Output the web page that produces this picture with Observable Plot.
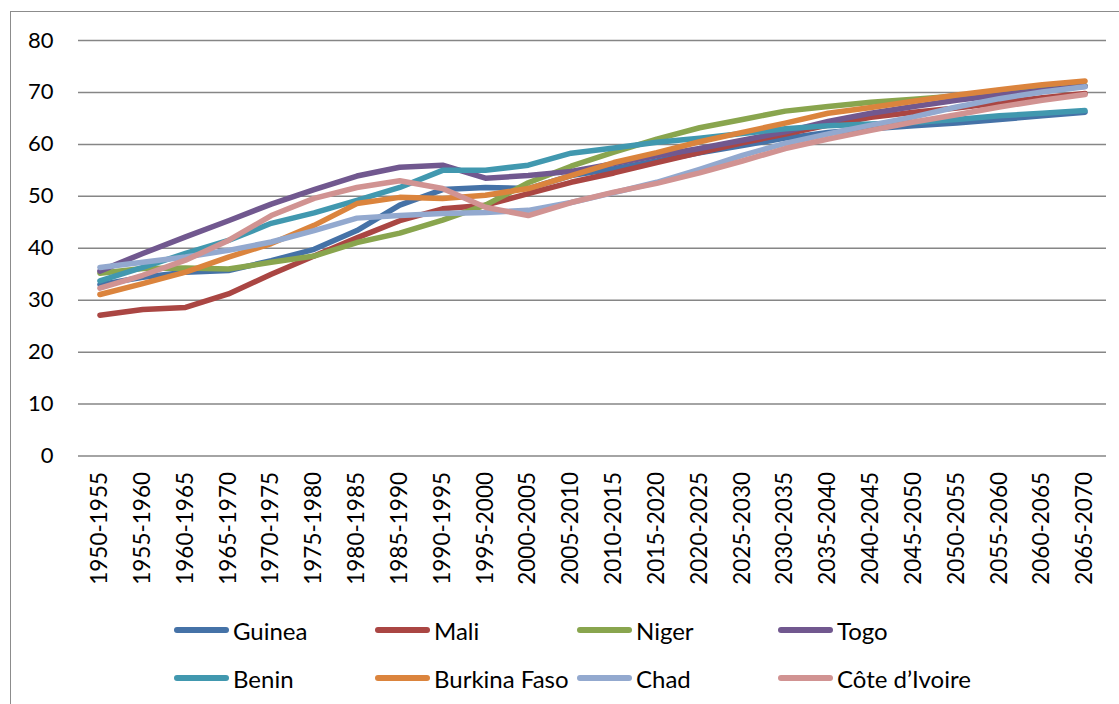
<!DOCTYPE html>
<html>
<head>
<meta charset="utf-8">
<script src="https://cdn.jsdelivr.net/npm/d3@7"></script>
<script src="https://cdn.jsdelivr.net/npm/@observablehq/plot@0.6"></script>
<style>
  html, body { margin: 0; padding: 0; background: #fff; overflow: hidden; }
  #wrap { position: relative; width: 1119px; height: 704px; font-family: Lato, "Open Sans", sans-serif; }
  #frame { position: absolute; left: 10px; top: 11px; width: 1200px; height: 800px; border: 1.5px solid #8c8c8c; box-sizing: border-box; }
  #chart { position: absolute; left: 0; top: 0; }
  .leg { position: absolute; display: flex; align-items: center; font-size: 24px; color: #000; white-space: nowrap; }
  .sw { width: 55px; height: 6px; border-radius: 3px; margin-right: 4px; }
</style>
</head>
<body>
<div id="wrap">
  <div id="frame"></div>
  <div id="chart"></div>
</div>
<script>
const periods = ["1950-1955","1955-1960","1960-1965","1965-1970","1970-1975","1975-1980","1980-1985","1985-1990","1990-1995","1995-2000","2000-2005","2005-2010","2010-2015","2015-2020","2020-2025","2025-2030","2030-2035","2035-2040","2040-2045","2045-2050","2050-2055","2055-2060","2060-2065","2065-2070"];

const countries = ["Guinea","Mali","Niger","Togo","Benin","Burkina Faso","Chad","Côte d’Ivoire"];
const colors = ["#4572A7","#AA4643","#89A54E","#71588F","#4198AF","#DB843D","#93A9CF","#D19392"];

const guinea  = [33.0,34.4,35.4,35.7,37.6,39.8,43.4,48.3,51.3,51.7,51.5,54.0,55.3,56.8,58.4,59.8,61.2,62.3,63.0,63.6,64.1,64.8,65.5,66.2];
const mali    = [27.1,28.2,28.6,31.2,35.0,38.5,42.0,45.3,47.6,48.3,50.5,52.7,54.5,56.5,58.4,60.3,62.0,63.7,65.2,66.2,67.0,68.0,69.0,69.8];
const niger   = [35.2,36.1,36.2,36.0,37.3,38.5,41.1,42.9,45.4,48.3,52.6,55.8,58.5,61.0,63.2,64.8,66.4,67.3,68.1,68.7,69.3,70.0,70.8,71.3];
const togo    = [35.6,39.0,42.2,45.3,48.5,51.3,53.9,55.6,56.0,53.5,54.0,54.8,56.3,57.8,59.2,60.8,62.4,64.4,66.0,67.3,68.5,69.5,70.4,71.2];
const benin   = [33.7,36.3,39.0,41.5,44.8,46.8,49.2,51.7,55.0,55.0,56.0,58.3,59.3,60.4,61.2,62.1,63.0,63.6,63.9,64.2,64.8,65.5,66.0,66.5];
const burkina = [31.1,33.2,35.4,38.3,40.9,44.4,48.6,49.8,49.6,50.2,51.5,54.0,56.5,58.4,60.5,62.3,64.1,66.0,67.1,68.3,69.5,70.5,71.5,72.2];
const chad    = [36.3,37.3,38.3,39.6,41.2,43.4,45.8,46.3,46.7,46.9,47.3,48.8,50.7,52.7,55.2,57.9,60.2,62.0,63.7,65.3,67.2,68.8,70.1,71.1];
const cote    = [32.3,34.8,37.7,41.5,46.3,49.6,51.7,53.0,51.5,47.9,46.3,48.8,50.8,52.5,54.5,56.8,59.2,61.0,62.7,64.3,65.7,67.2,68.5,69.6];

const yTicks = [0,10,20,30,40,50,60,70,80];

const seriesValues = [guinea, mali, niger, togo, benin, burkina, chad, cote];
const rows = countries.flatMap((c, k) => periods.map((p, i) => ({period: p, value: seriesValues[k][i], country: c})));

const chart = Plot.plot({
  width: 1119,
  height: 600,
  marginTop: 40,
  marginBottom: 144.5,
  marginLeft: 78,
  marginRight: 13,
  style: {fontFamily: "Lato, 'Open Sans', sans-serif", fontSize: "22px", color: "#000", background: "transparent", overflow: "visible"},
  x: {type: "point", domain: periods, padding: 0.5, round: false, label: null},
  y: {domain: [0, 80], label: null},
  color: {domain: countries, range: colors},
  marks: [
    Plot.ruleY(yTicks, {stroke: "#868686", strokeWidth: 1.5}),
    Plot.axisY(yTicks, {tickSize: 0, tickPadding: 25, fontSize: 22, label: null}),
    Plot.axisX({tickSize: 0, tickRotate: -90, tickPadding: 16, fontSize: 22.5, label: null}),
    Plot.line(rows, {x: "period", y: "value", z: "country", stroke: "country", strokeWidth: 5.5, strokeLinejoin: "round", strokeLinecap: "round"})
  ]
});
document.getElementById("chart").appendChild(chart);

// legend (HTML)
const legLeft = [174, 375, 577, 778];
const legTop = [630, 678];
const wrap = document.getElementById("wrap");
countries.forEach((c, k) => {
  const d = document.createElement("div");
  d.className = "leg";
  d.style.left = legLeft[k % 4] + "px";
  d.style.top = (legTop[Math.floor(k / 4)] - 15) + "px";
  d.style.height = "30px";
  const sw = document.createElement("div");
  sw.className = "sw";
  sw.style.background = colors[k];
  const t = document.createElement("span");
  t.textContent = c;
  d.appendChild(sw);
  d.appendChild(t);
  wrap.appendChild(d);
});
</script>
</body>
</html>
